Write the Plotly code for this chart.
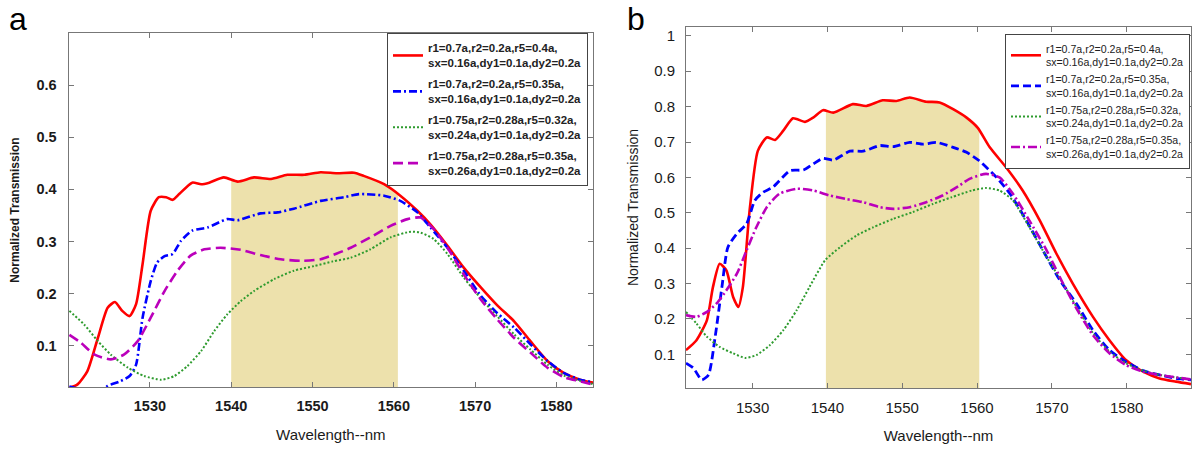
import numpy as np
import plotly.graph_objects as go

# ---------------- data: panel a ----------------
A_RED_X = [1520.1, 1521.1, 1522.3, 1523.6, 1524.8, 1525.7, 1526.6, 1527.5, 1528.3, 1529.1, 1530.1, 1531.1,
           1532.0, 1532.8, 1533.6, 1535.2, 1536.3, 1537.3, 1539.1, 1540.8, 1542.8, 1544.9, 1546.9, 1549.0,
           1551.0, 1553.0, 1555.1, 1556.3, 1558.8, 1560.8, 1562.9, 1564.5, 1566.6, 1568.6, 1570.7, 1572.7,
           1574.8, 1576.8, 1578.9, 1580.9, 1582.9, 1584.6]
A_RED_Y = [0.019, 0.026, 0.051, 0.115, 0.173, 0.184, 0.167, 0.157, 0.180, 0.257, 0.359, 0.385,
           0.385, 0.380, 0.391, 0.413, 0.410, 0.413, 0.423, 0.415, 0.423, 0.420, 0.428, 0.428,
           0.433, 0.431, 0.432, 0.426, 0.410, 0.388, 0.359, 0.333, 0.292, 0.250, 0.212, 0.178,
           0.147, 0.109, 0.071, 0.048, 0.035, 0.029]

A_BLUE_X = [1520.1, 1521.0, 1522.0, 1523.0, 1524.0, 1524.8, 1526.2, 1527.5, 1528.3, 1529.1, 1530.1, 1530.9,
            1531.8, 1532.8, 1533.8, 1535.2, 1537.1, 1539.5, 1540.8, 1543.6, 1545.7, 1547.7, 1551.0, 1553.9,
            1555.7, 1558.8, 1560.8, 1562.9, 1564.5, 1566.6, 1568.6, 1570.7, 1572.7, 1574.8, 1576.8, 1578.9,
            1580.9, 1582.9, 1584.6]
A_BLUE_Y = [0.022, 0.018, 0.008, 0.002, 0.010, 0.023, 0.031, 0.042, 0.064, 0.154, 0.224, 0.260,
            0.272, 0.276, 0.301, 0.321, 0.327, 0.343, 0.341, 0.354, 0.356, 0.363, 0.378, 0.385,
            0.391, 0.388, 0.378, 0.356, 0.327, 0.288, 0.244, 0.196, 0.163, 0.135, 0.103, 0.071,
            0.048, 0.035, 0.030]

A_GREEN_X = [1520.1, 1521.9, 1523.6, 1525.2, 1527.3, 1529.3, 1531.4, 1533.0, 1534.6, 1536.3, 1537.9, 1539.5,
             1541.2, 1542.8, 1545.3, 1547.7, 1550.2, 1552.5, 1554.7, 1557.1, 1559.6, 1562.1, 1563.3, 1564.9,
             1566.6, 1568.6, 1570.7, 1572.7, 1574.8, 1576.8, 1578.9, 1580.9, 1582.9, 1584.6]
A_GREEN_Y = [0.167, 0.141, 0.109, 0.083, 0.058, 0.042, 0.035, 0.042, 0.061, 0.090, 0.128, 0.160,
             0.186, 0.205, 0.228, 0.244, 0.253, 0.262, 0.269, 0.285, 0.308, 0.319, 0.317, 0.305,
             0.276, 0.231, 0.191, 0.157, 0.122, 0.093, 0.064, 0.043, 0.033, 0.026]

A_MAG_X = [1520.1, 1521.5, 1523.2, 1525.2, 1526.8, 1528.5, 1530.1, 1531.8, 1533.4, 1535.0, 1536.7, 1538.7,
           1541.2, 1543.6, 1546.1, 1548.6, 1551.0, 1553.0, 1554.7, 1557.1, 1559.6, 1561.7, 1563.3, 1564.9,
           1566.6, 1568.6, 1570.7, 1572.7, 1574.8, 1576.8, 1578.9, 1580.9, 1582.9, 1584.6]
A_MAG_Y = [0.121, 0.106, 0.083, 0.074, 0.083, 0.109, 0.154, 0.205, 0.244, 0.273, 0.285, 0.288,
           0.284, 0.274, 0.266, 0.263, 0.266, 0.277, 0.288, 0.308, 0.330, 0.343, 0.346, 0.324,
           0.288, 0.237, 0.189, 0.151, 0.115, 0.087, 0.058, 0.040, 0.032, 0.025]

# ---------------- data: panel b ----------------
B_RED_X = [1521.1, 1522.5, 1523.9, 1524.7, 1525.6, 1526.5, 1527.4, 1528.1, 1528.7, 1529.6, 1530.7, 1531.9,
           1533.0, 1534.1, 1535.4, 1537.0, 1538.1, 1539.4, 1540.8, 1543.4, 1545.2, 1547.4, 1549.2, 1551.0,
           1553.2, 1555.0, 1556.8, 1558.6, 1560.1, 1561.7, 1563.9, 1566.1, 1568.4, 1570.6, 1572.8, 1575.5,
           1577.7, 1579.9, 1582.2, 1584.4, 1586.6, 1588.6]
B_RED_Y = [0.112, 0.140, 0.197, 0.290, 0.356, 0.337, 0.262, 0.234, 0.290, 0.506, 0.675, 0.713,
           0.706, 0.732, 0.767, 0.757, 0.769, 0.790, 0.783, 0.807, 0.802, 0.818, 0.816, 0.826,
           0.814, 0.812, 0.793, 0.769, 0.740, 0.685, 0.628, 0.563, 0.478, 0.385, 0.300, 0.206,
           0.140, 0.084, 0.051, 0.032, 0.023, 0.016]

B_BLUE_X = [1521.1, 1522.1, 1523.2, 1524.1, 1525.0, 1525.9, 1526.7, 1527.9, 1529.2, 1530.3, 1531.4, 1532.7,
            1535.0, 1536.8, 1538.1, 1539.4, 1540.8, 1543.0, 1544.8, 1547.0, 1548.8, 1551.0, 1552.8, 1554.6,
            1556.8, 1558.6, 1560.3, 1562.6, 1564.4, 1566.6, 1568.8, 1571.0, 1573.3, 1575.5, 1577.7, 1579.9,
            1582.2, 1584.4, 1586.6, 1588.6]
B_BLUE_Y = [0.075, 0.061, 0.028, 0.042, 0.150, 0.290, 0.403, 0.441, 0.469, 0.535, 0.558, 0.572,
            0.619, 0.621, 0.638, 0.654, 0.649, 0.674, 0.674, 0.690, 0.687, 0.699, 0.694, 0.699,
            0.685, 0.671, 0.647, 0.600, 0.554, 0.478, 0.394, 0.312, 0.243, 0.168, 0.112, 0.079,
            0.054, 0.042, 0.032, 0.028]

B_GREEN_X = [1521.1, 1522.5, 1523.9, 1525.6, 1527.4, 1529.0, 1530.5, 1532.3, 1534.1, 1535.9, 1537.6, 1539.7,
             1541.7, 1543.9, 1546.1, 1548.8, 1551.4, 1554.1, 1556.6, 1559.3, 1561.2, 1563.0, 1564.8, 1567.0,
             1569.3, 1571.5, 1573.3, 1575.5, 1577.7, 1579.9, 1582.2, 1584.4, 1586.6, 1588.6]
B_GREEN_Y = [0.220, 0.187, 0.150, 0.121, 0.103, 0.090, 0.098, 0.126, 0.168, 0.225, 0.290, 0.366,
             0.403, 0.436, 0.459, 0.483, 0.502, 0.525, 0.544, 0.563, 0.570, 0.563, 0.535, 0.459,
             0.375, 0.300, 0.234, 0.160, 0.108, 0.075, 0.054, 0.042, 0.035, 0.029]

B_MAG_X = [1521.1, 1522.5, 1523.9, 1525.2, 1526.5, 1527.9, 1529.2, 1530.5, 1531.9, 1533.6, 1535.9, 1538.1,
           1540.3, 1542.5, 1544.8, 1547.0, 1548.8, 1551.0, 1553.2, 1555.4, 1557.5, 1559.0, 1561.2, 1563.0,
           1564.8, 1567.0, 1569.3, 1571.5, 1573.5, 1575.5, 1577.7, 1579.9, 1582.2, 1584.4, 1586.6, 1588.6]
B_MAG_Y = [0.211, 0.206, 0.220, 0.244, 0.281, 0.328, 0.394, 0.459, 0.516, 0.554, 0.568, 0.563,
           0.549, 0.539, 0.530, 0.516, 0.511, 0.516, 0.530, 0.549, 0.575, 0.596, 0.610, 0.600,
           0.554, 0.478, 0.394, 0.300, 0.222, 0.154, 0.103, 0.070, 0.051, 0.042, 0.035, 0.029]

# band limits (nm) of the shaded region
BAND_A = [1540.0, 1560.5]
BAND_B = [1539.8, 1560.3]

X_TICKS = [1530, 1540, 1550, 1560, 1570, 1580]
Y_TICKS_A = [0.1, 0.2, 0.3, 0.4, 0.5, 0.6]
Y_TICKS_B = [0.1, 0.2, 0.3, 0.4, 0.5, 0.6, 0.7, 0.8, 0.9, 1.0]
Y_TICKTEXT_B = ["0.1", "0.2", "0.3", "0.4", "0.5", "0.6", "0.7", "0.8", "0.9", "1"]

NAMES_A = ["r1=0.7a,r2=0.2a,r5=0.4a,<br>sx=0.16a,dy1=0.1a,dy2=0.2a",
           "r1=0.7a,r2=0.2a,r5=0.35a,<br>sx=0.16a,dy1=0.1a,dy2=0.2a",
           "r1=0.75a,r2=0.28a,r5=0.32a,<br>sx=0.24a,dy1=0.1a,dy2=0.2a",
           "r1=0.75a,r2=0.28a,r5=0.35a,<br>sx=0.26a,dy1=0.1a,dy2=0.2a"]
NAMES_B = NAMES_A

RED = "#FF0000"
BLUE = "#0000FF"
GREEN = "#2E9B2E"
MAG = "#BB00BB"
SHADE = "#EDE1AC"
FONT = "Liberation Sans, Arial, sans-serif"

W, H = 1192, 449


def band_trace(xs, ys, band, xa, ya):
    xs = np.asarray(xs)
    ys = np.asarray(ys)
    inside = (xs > band[0]) & (xs < band[1])
    bx = np.concatenate([[band[0]], xs[inside], [band[1]]])
    by = np.concatenate([[np.interp(band[0], xs, ys)], ys[inside], [np.interp(band[1], xs, ys)]])
    return go.Scatter(x=bx, y=by, mode="lines", fill="tozeroy", fillcolor=SHADE,
                      line=dict(width=0, color=SHADE), showlegend=False, hoverinfo="skip",
                      xaxis=xa, yaxis=ya)


fig = go.Figure()

# ---- panel a ----
fig.add_trace(band_trace(A_RED_X, A_RED_Y, BAND_A, "x", "y"))
series_a = [
    (A_RED_X, A_RED_Y, RED, "solid", 2.6),
    (A_BLUE_X, A_BLUE_Y, BLUE, "8px,3px,2px,3px", 2.6),
    (A_GREEN_X, A_GREEN_Y, GREEN, "2px,2px", 2.0),
    (A_MAG_X, A_MAG_Y, MAG, "10px,5px", 2.6),
]
for i, ((xs, ys, c, d, w), nm) in enumerate(zip(series_a, NAMES_A)):
    fig.add_trace(go.Scatter(x=xs, y=ys, mode="lines", name=nm, legendgroup=f"a{i}",
                             line=dict(color=c, dash=d, width=w, shape="spline", smoothing=0.6),
                             xaxis="x", yaxis="y", legend="legend"))

# ---- panel b ----
fig.add_trace(band_trace(B_RED_X, B_RED_Y, BAND_B, "x2", "y2"))
series_b = [
    (B_RED_X, B_RED_Y, RED, "solid", 2.6),
    (B_BLUE_X, B_BLUE_Y, BLUE, "8px,4px", 2.8),
    (B_GREEN_X, B_GREEN_Y, GREEN, "2px,2px", 2.0),
    (B_MAG_X, B_MAG_Y, MAG, "9px,3px,2px,3px", 2.6),
]
for (xs, ys, c, d, w), nm in zip(series_b, NAMES_B):
    fig.add_trace(go.Scatter(x=xs, y=ys, mode="lines", name=nm,
                             line=dict(color=c, dash=d, width=w, shape="spline", smoothing=0.6),
                             xaxis="x2", yaxis="y2", legend="legend2"))

axis_common = dict(showgrid=False, zeroline=False, showline=True, linecolor="#777777", linewidth=1,
                   mirror="ticks", ticks="inside", ticklen=5, tickcolor="#777777")

fig.update_layout(
    width=W, height=H,
    paper_bgcolor="white", plot_bgcolor="white",
    margin=dict(l=0, r=0, t=0, b=0, autoexpand=False),
    font=dict(family=FONT, color="#1a1a1a"),
    xaxis=dict(domain=[68.6 / W, 593 / W], range=[1520, 1584.5], anchor="y",
               tickvals=X_TICKS, tickfont=dict(size=14.5, weight="bold"), ticklabelstandoff=6,
               title=dict(text="Wavelength--nm", font=dict(size=15), standoff=16),
               **axis_common),
    yaxis=dict(domain=[62 / H, (H - 33) / H], range=[0.021, 0.7], anchor="x",
               tickvals=Y_TICKS_A, tickfont=dict(size=14.5, weight="bold"), ticklabelstandoff=8,
               title=dict(text="Normalized Transmission", font=dict(size=12, weight="bold"), standoff=14),
               **axis_common),
    xaxis2=dict(domain=[686 / W, 1191 / W], range=[1521.1, 1588.6], anchor="y2",
                tickvals=X_TICKS, tickfont=dict(size=15), ticklabelstandoff=6,
                title=dict(text="Wavelength--nm", font=dict(size=15), standoff=15),
                **axis_common),
    yaxis2=dict(domain=[61 / H, (H - 27) / H], range=[0.005, 1.025], anchor="x2",
                tickvals=Y_TICKS_B, ticktext=Y_TICKTEXT_B, tickfont=dict(size=15), ticklabelstandoff=7,
                title=dict(text="Normalized Transmission", font=dict(size=14), standoff=12),
                **axis_common),
    legend=dict(x=387 / W, y=(H - 33) / H, xanchor="left", yanchor="top",
                bgcolor="white", bordercolor="#444444", borderwidth=1,
                font=dict(family=FONT, size=11.5, weight="bold", color="#222222"),
                itemwidth=30, traceorder="grouped", tracegroupgap=3),
    legend2=dict(x=1005 / W, y=(H - 34) / H, xanchor="left", yanchor="top",
                 bgcolor="white", bordercolor="#444444", borderwidth=1,
                 font=dict(family=FONT, size=10.6, color="#222222"),
                 itemwidth=30, tracegroupgap=0),
    annotations=[
        dict(text="a", x=0.0, y=1.0, xref="paper", yref="paper", xanchor="left", yanchor="top",
             xshift=7, yshift=1, showarrow=False, font=dict(size=32, family=FONT, color="black")),
        dict(text="b", x=622 / W, y=1.0, xref="paper", yref="paper", xanchor="left", yanchor="top",
             xshift=3, yshift=1, showarrow=False, font=dict(size=32, family=FONT, color="black")),
    ],
)

fig.write_html("out.html", config={"displayModeBar": False},
               post_script="document.body.style.margin='0';document.body.style.overflow='hidden';")
